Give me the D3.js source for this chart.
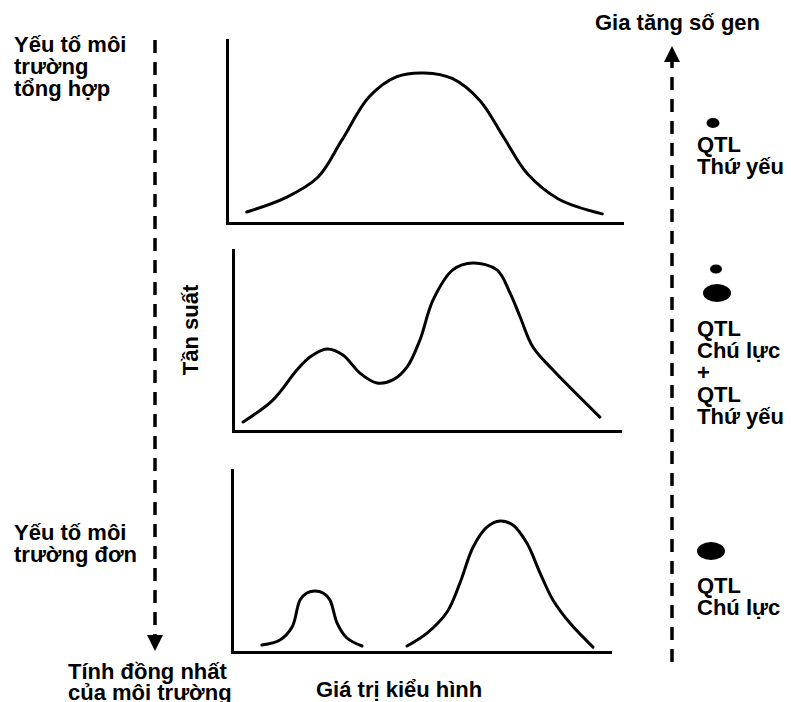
<!DOCTYPE html>
<html>
<head>
<meta charset="utf-8">
<script src="https://cdn.jsdelivr.net/npm/d3@7"></script>
<style>
  html, body { margin: 0; padding: 0; background: #fff; }
  svg { display: block; }
  text { font-family: "Liberation Sans", Arial, sans-serif; font-weight: bold; fill: #000; }
</style>
</head>
<body>
<svg id="chart" width="791" height="702"></svg>
<script>
// ---- Data (phenotype value 0-100, frequency 0-100) ----
const panel1X = [5, 15, 23, 29, 36, 43, 50, 57, 64, 70, 76, 84, 95];
const panel1Y = [6, 14, 25, 45, 69, 80, 82, 79, 67, 47, 27, 13, 5];

const panel2X = [2.6, 10.3, 16.5, 19.9, 24.3, 28.4, 32.8, 37.2, 41.3, 45.0, 48.3, 51.7, 56.8, 62.0, 68.2, 71.6, 74.2, 77.5, 82.7, 94.8];
const panel2Y = [5.0, 17.1, 33.7, 40.9, 45.3, 42.0, 32.0, 26.5, 28.2, 35.4, 50.3, 72.4, 89.0, 92.8, 89.0, 76.2, 63.0, 46.4, 33.7, 7.7];

const panel3aX = [7.9, 12.7, 15.9, 18.0, 19.8, 22.0, 24.1, 25.9, 27.8, 30.4, 34.4];
const panel3aY = [3.8, 6.6, 13.7, 28.6, 32.4, 33.5, 32.4, 28.6, 15.9, 7.7, 3.3];
const panel3bX = [46.3, 51.6, 56.9, 60.3, 63.8, 67.5, 70.9, 74.3, 78.0, 81.5, 84.9, 89.4, 95.5];
const panel3bY = [3.3, 10.4, 22.0, 37.9, 57.7, 68.7, 72.0, 69.8, 59.9, 43.4, 28.6, 15.9, 2.7];

const leftLabelsTop = ["Yếu tố môi", "trường", "tổng hợp"];
const leftLabelsBottom = ["Yếu tố môi", "trường đơn"];
const leftArrowLabel = ["Tính đồng nhất", "của môi trường"];
const rightArrowLabel = "Gia tăng số gen";
const rightLabels1 = ["QTL", "Thứ yếu"];
const rightLabels2 = ["QTL", "Chú lực", "+", "QTL", "Thứ yếu"];
const rightLabels3 = ["QTL", "Chú lực"];
const yAxisTitle = "Tần suất";
const xAxisTitle = "Giá trị kiểu hình";

// ---- Layout ----
const svg = d3.select("#chart");
const FS = 22;

const panels = [
  { left: 227, right: 622, top: 40, bottom: 223, series: [[panel1X, panel1Y]] },
  { left: 233, right: 620, top: 250, bottom: 431, series: [[panel2X, panel2Y]] },
  { left: 232, right: 610, top: 470, bottom: 652, series: [[panel3aX, panel3aY], [panel3bX, panel3bY]] }
];

panels.forEach(p => {
  const x = d3.scaleLinear().domain([0, 100]).range([p.left, p.right]);
  const y = d3.scaleLinear().domain([0, 100]).range([p.bottom, p.top]);
  const g = svg.append("g");

  const ax = g.append("g").attr("transform", `translate(0,${p.bottom})`)
    .call(d3.axisBottom(x).tickValues([]).tickSizeOuter(0));
  const ay = g.append("g").attr("transform", `translate(${p.left},0)`)
    .call(d3.axisLeft(y).tickValues([]).tickSizeOuter(0));
  g.selectAll(".domain").attr("stroke", "#000").attr("stroke-width", 3).attr("stroke-linecap", "square");

  const line = d3.line().x(d => x(d[0])).y(d => y(d[1])).curve(d3.curveCatmullRom.alpha(0.5));
  p.series.forEach(([xs, ys]) => {
    g.append("path")
      .datum(xs.map((v, i) => [v, ys[i]]))
      .attr("d", line)
      .attr("fill", "none")
      .attr("stroke", "#000")
      .attr("stroke-width", 3)
      .attr("stroke-linecap", "round")
      .attr("stroke-linejoin", "round");
  });
});

// ---- Dashed arrows ----
function dashedArrow(xp, yStart, yTip, dir) {
  // dir: +1 down, -1 up
  const headLen = 16, headHalf = 8;
  svg.append("line")
    .attr("x1", xp).attr("x2", xp)
    .attr("y1", yStart).attr("y2", yTip - dir * headLen)
    .attr("stroke", "#000").attr("stroke-width", 3.5)
    .attr("stroke-dasharray", "13,9");
  svg.append("path")
    .attr("d", `M${xp},${yTip} L${xp - headHalf},${yTip - dir * headLen} L${xp + headHalf},${yTip - dir * headLen} Z`)
    .attr("fill", "#000");
}
dashedArrow(155, 40, 651, 1);
dashedArrow(672, 662, 46, -1);

// ---- Text ----
function lines(arr, x, y0, dy, anchor) {
  const t = svg.append("text").attr("font-size", FS).attr("text-anchor", anchor || "start");
  arr.forEach((s, i) => t.append("tspan").attr("x", x).attr("y", y0 + i * dy).text(s));
}
lines(leftLabelsTop, 14, 52, 22);
lines(leftLabelsBottom, 14, 540, 22);
lines(leftArrowLabel, 68, 679, 21);
svg.append("text").attr("font-size", FS).attr("x", 595).attr("y", 30).text(rightArrowLabel);
svg.append("text").attr("font-size", FS).attr("x", 316).attr("y", 697).text(xAxisTitle);
svg.append("text").attr("font-size", FS)
  .attr("transform", "translate(198,330) rotate(-90)")
  .attr("text-anchor", "middle").text(yAxisTitle);

// right side markers (QTL effect sizes)
const markers = [
  { cx: 713, cy: 123, rx: 6.5, ry: 5 },
  { cx: 716, cy: 269, rx: 6, ry: 4.5 },
  { cx: 717, cy: 293, rx: 14, ry: 9 },
  { cx: 711, cy: 551, rx: 14, ry: 9 }
];
svg.selectAll("ellipse.m").data(markers).enter().append("ellipse")
  .attr("cx", d => d.cx).attr("cy", d => d.cy).attr("rx", d => d.rx).attr("ry", d => d.ry)
  .attr("fill", "#000");

lines(rightLabels1, 697, 152, 22);
lines(rightLabels2, 697, 336, 22);
lines(rightLabels3, 697, 593, 22);
</script>
</body>
</html>
